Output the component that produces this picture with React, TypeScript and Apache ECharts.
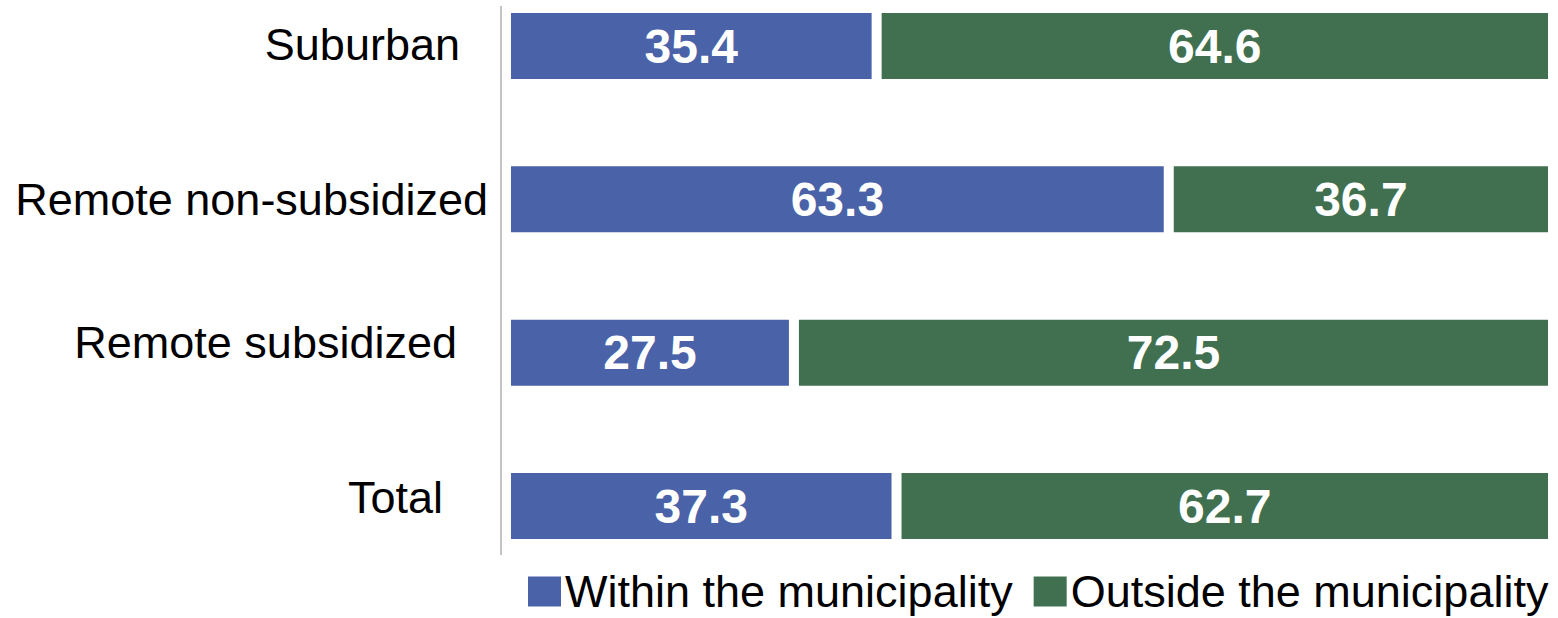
import React, { useEffect, useRef } from "react";
import * as echarts from "echarts";

const categories = ["Suburban", "Remote non-subsidized", "Remote subsidized", "Total"];
const withinValues = [35.4, 63.3, 27.5, 37.3];
const outsideValues = [64.6, 36.7, 72.5, 62.7];
const seriesNames = ["Within the municipality", "Outside the municipality"];

const labelRight = [28, 0, 31, 45];
const labelUp = [2, 0, 10, 9];

const FONT = "'Liberation Sans', Arial, sans-serif";

export default function App() {
  const ref = useRef<HTMLDivElement>(null);
  useEffect(() => {
    if (!ref.current) return;
    const chart = echarts.init(ref.current, null, { renderer: "svg" });
    const rich: Record<string, any> = {};
    categories.forEach((_, i) => {
      rich["p" + i] = {
        fontSize: 45,
        fontFamily: FONT,
        color: "#000",
        padding: [0, labelRight[i], labelUp[i] * 2, 0],
      };
    });
    const dataLabel = {
      show: true,
      position: "inside",
      color: "#fff",
      fontSize: 48,
      fontWeight: "bold",
      fontFamily: FONT,
      formatter: (p: any) => p.value.toFixed(1),
    };
    chart.setOption({
      animation: false,
      backgroundColor: "#fff",
      grid: { left: 506, right: 5, top: 46, height: 460, containLabel: false },
      xAxis: { type: "value", min: 0, max: 100, show: false },
      yAxis: {
        type: "category",
        data: categories,
        inverse: true,
        boundaryGap: false,
        axisLine: { show: false },
        axisTick: { show: false },
        splitLine: { show: false },
        axisLabel: {
          margin: 18,
          formatter: (v: string, i: number) => `{p${i}|${v}}`,
          rich,
        },
      },
      legend: {
        left: 521,
        top: 564,
        itemWidth: 35,
        itemHeight: 32,
        itemGap: 19,
        icon: "rect",
        textStyle: { fontSize: 45, fontFamily: FONT, color: "#000", padding: [0, 0, 0, -2] },
        data: seriesNames,
      },
      series: [
        {
          name: seriesNames[0],
          type: "bar",
          stack: "s",
          barWidth: 76,
          data: withinValues,
          itemStyle: { color: "#4A62A8", borderColor: "#fff", borderWidth: 5 },
          label: dataLabel,
        },
        {
          name: seriesNames[1],
          type: "bar",
          stack: "s",
          barWidth: 76,
          data: outsideValues,
          itemStyle: { color: "#407050", borderColor: "#fff", borderWidth: 5 },
          label: dataLabel,
        },
      ],
      graphic: [
        {
          type: "line",
          shape: { x1: 501, y1: 6, x2: 501, y2: 555 },
          style: { stroke: "#C4C4C4", lineWidth: 2 },
        },
      ],
    });
    return () => chart.dispose();
  }, []);
  return <div ref={ref} style={{ width: 1558, height: 618, position: "absolute", left: 0, top: 0 }} />;
}
